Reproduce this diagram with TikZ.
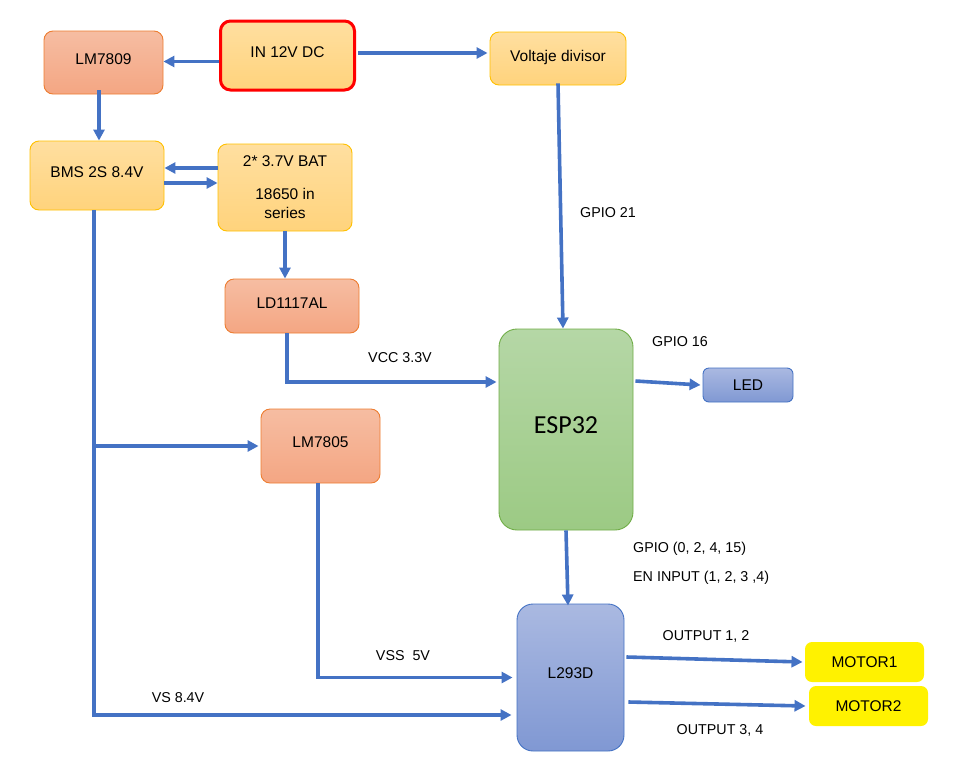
\documentclass[tikz,border=0pt]{standalone}
\usepackage{fontspec}
\setmainfont{Liberation Sans}
\newfontfamily\calib{Carlito}
\usetikzlibrary{arrows.meta}
\definecolor{arr}{HTML}{4472C4}
\definecolor{ytop}{HTML}{FFDFA0}
\definecolor{ybot}{HTML}{FFD37C}
\definecolor{yedge}{HTML}{FFC000}
\definecolor{stop}{HTML}{F6BDA2}
\definecolor{sbot}{HTML}{F4A683}
\definecolor{sedge}{HTML}{ED7D31}
\definecolor{gtop}{HTML}{B5D7A6}
\definecolor{gbot}{HTML}{9CCA84}
\definecolor{gedge}{HTML}{70AD47}
\definecolor{btop}{HTML}{AAB9E1}
\definecolor{bbot}{HTML}{8098D3}
\definecolor{bedge}{HTML}{4472C4}
\tikzset{
  base/.style={rectangle, rounded corners=9pt, inner sep=0pt, align=center,
    font=\fontsize{15.5}{18}\selectfont, line width=0.9pt},
  obox/.style={base, top color=ytop, bottom color=ybot, draw=yedge},
  sbox/.style={base, top color=stop, bottom color=sbot, draw=sedge},
  gbox/.style={base, top color=gtop, bottom color=gbot, draw=gedge, rounded corners=18pt},
  bbox/.style={base, top color=btop, bottom color=bbot, draw=bedge},
  mbox/.style={base, fill=yellow, draw=none, rounded corners=7pt},
  conn/.style={draw=arr, line width=3.6pt, -{Triangle[length=11pt,width=11pt]}},
  wire/.style={draw=arr, line width=3.6pt},
  lbl/.style={font=\fontsize{14.3}{17}\selectfont, inner sep=0pt}
}
\begin{document}
\begin{tikzpicture}[x=1pt,y=-1pt]
\useasboundingbox (0,0) rectangle (957,758);

% boxes
\node[obox, draw=red, line width=3pt, rounded corners=10pt, minimum width=134pt, minimum height=69pt] (in) at (287.5,55.5) {\raisebox{6pt}{IN 12V DC}};
\node[sbox, minimum width=119pt, minimum height=63pt] (lm9) at (103.5,62.5) {\raisebox{6pt}{LM7809}};
\node[obox, minimum width=136pt, minimum height=53pt] (vd) at (558,58.5) {\raisebox{5pt}{Voltaje divisor}};
\node[obox, minimum width=134pt, minimum height=69pt] (bms) at (97,175.5) {\raisebox{6pt}{BMS 2S 8.4V}};
\node[obox, minimum width=134pt, minimum height=87pt, font=\fontsize{15.5}{19}\selectfont] (bat) at (285,187.5) {\raisebox{2pt}{2* 3.7V BAT}\\[12pt]18650 in\\series};
\node[sbox, minimum width=134pt, minimum height=54pt] (ld) at (292,306) {\raisebox{5pt}{LD1117AL}};
\node[gbox, minimum width=134pt, minimum height=201pt, font=\calib\fontsize{26}{30}\selectfont] (esp) at (566,429.5) {\raisebox{8pt}{ESP32}};
\node[bbox, minimum width=90pt, minimum height=34pt, rounded corners=6pt] (led) at (748,385) {LED};
\node[sbox, minimum width=119pt, minimum height=74pt] (lm5) at (320.5,446) {\raisebox{8pt}{LM7805}};
\node[bbox, minimum width=107pt, minimum height=147pt, rounded corners=16pt] (l293) at (570.5,677.5) {\raisebox{8pt}{L293D}};
\node[mbox, minimum width=119pt, minimum height=40pt] (m1) at (864.5,662) {MOTOR1};
\node[mbox, minimum width=119pt, minimum height=40pt] (m2) at (868.5,706) {MOTOR2};

% connectors
\draw[conn] ([yshift=-6pt]in.west) -- ([yshift=-6pt]in.west -| lm9.east);
\draw[conn] ([yshift=2.5pt,xshift=2pt]in.east) -- ([yshift=2.5pt,xshift=-2pt]in.east -| vd.west);
\draw[conn] ([xshift=-4.5pt,yshift=4pt]lm9.south) -- ([xshift=-4.5pt]lm9.south |- bms.north);
\draw[conn] ([yshift=19.5pt]bat.west) -- ([yshift=19.5pt]bat.west -| bms.east);
\draw[conn] ([yshift=4.5pt]bat.west -| bms.east) -- ([yshift=4.5pt]bat.west);
\draw[conn] (bat.south) -- (bat.south |- ld.north);
\draw[conn] ([yshift=2pt]vd.south) -- ([xshift=-3pt]esp.north);
\draw[conn] ([xshift=-5pt]ld.south) |- ([yshift=47.5pt,xshift=-2pt]esp.west);
\draw[conn] ([yshift=48.5pt,xshift=2pt]esp.east) -- ([xshift=-2pt]led.west);
\draw[conn] ([xshift=-3pt]bms.south) |- ([yshift=-37.5pt,xshift=-5pt]l293.west);
\draw[conn] ([xshift=-3pt]bms.south |- lm5.west) -- ([xshift=-2pt]lm5.west);
\draw[conn] ([xshift=-2.5pt]lm5.south) |- ([xshift=-4pt]l293.west);
\draw[conn] (esp.south) -- ([xshift=-2.5pt,yshift=-2pt]l293.north);
\draw[conn] ([yshift=20.5pt,xshift=2pt]l293.east) -- ([xshift=-2pt]m1.west);
\draw[conn] ([yshift=-24.5pt,xshift=4pt]l293.east) -- ([xshift=-3pt]m2.west);

% labels
\node[lbl] (l1) at (608,213) {GPIO 21};
\node[lbl] (l2) at (400,358) {VCC 3.3V};
\node[lbl] (l3) at (680,342) {GPIO 16};
\node[lbl] (l4) at (178,698) {VS 8.4V};
\node[lbl] (l5) at (403,656) {VSS\ \ 5V};
\node[lbl, anchor=west] (l6) at (633,549) {GPIO (0, 2, 4, 15)};
\node[lbl, anchor=west] (l7) at (633,578) {EN INPUT (1, 2, 3 ,4)};
\node[lbl] (l8) at (706,636) {OUTPUT 1, 2};
\node[lbl] (l9) at (720,730) {OUTPUT 3, 4};
\end{tikzpicture}
\end{document}
